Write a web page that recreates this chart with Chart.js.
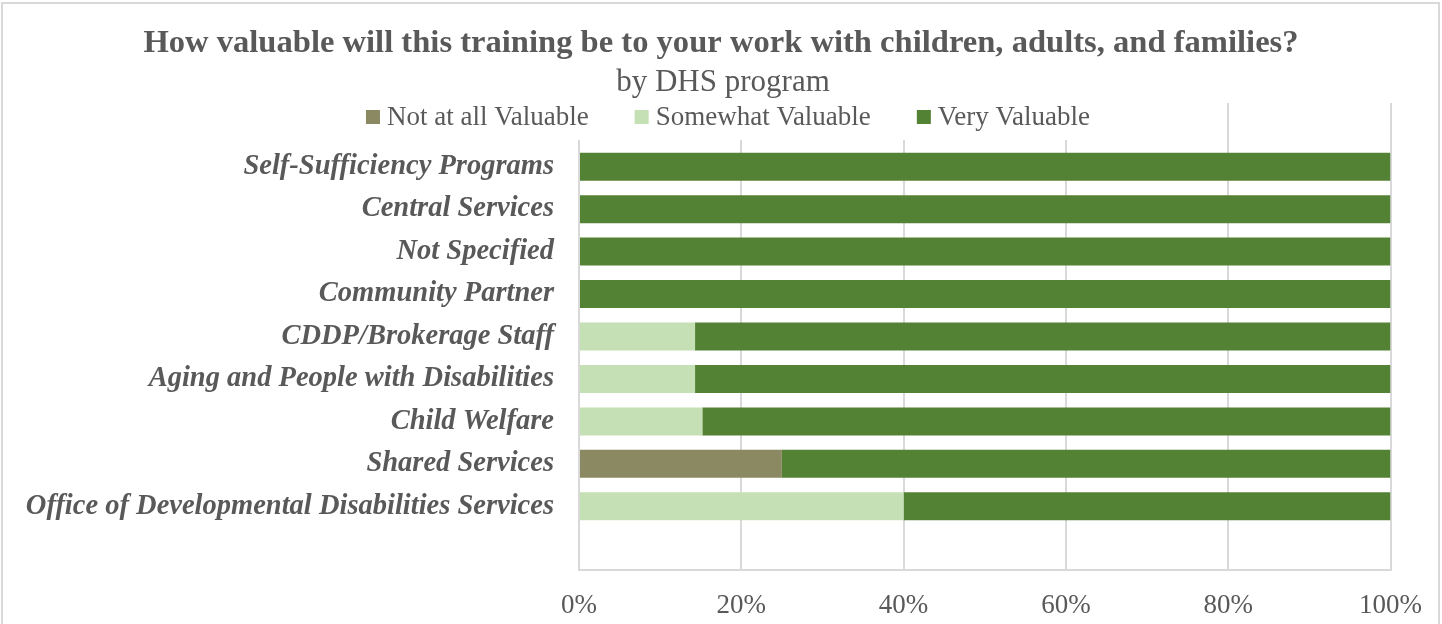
<!DOCTYPE html>
<html>
<head>
<meta charset="utf-8">
<title>How valuable will this training be</title>
<script src="https://cdn.jsdelivr.net/npm/chart.js@4.4.1/dist/chart.umd.min.js"></script>
<style>
  html, body { margin: 0; padding: 0; background: #fff; }
  #wrap { position: relative; width: 1442px; height: 624px; }
</style>
</head>
<body>
<div id="wrap"><canvas id="chart"></canvas></div>
<script>
const titleText = "How valuable will this training be to your work with children, adults, and families?";
const subtitleText = "by DHS program";
const programs = [
  "Self-Sufficiency Programs",
  "Central Services",
  "Not Specified",
  "Community Partner",
  "CDDP/Brokerage Staff",
  "Aging and People with Disabilities",
  "Child Welfare",
  "Shared Services",
  "Office of Developmental Disabilities Services",
];
const notValuable = [0, 0, 0, 0, 0, 0, 0, 25, 0];
const somewhatValuable = [0, 0, 0, 0, 14.3, 14.3, 15.2, 0, 40];
const veryValuable = [100, 100, 100, 100, 85.7, 85.7, 84.8, 75, 60];
const xTicks = [0, 20, 40, 60, 80, 100];

const FONT = "'Liberation Serif', 'Times New Roman', serif";
const GREY = "#595959";

// Excel leaves an empty slot above and below the bars
const pad = (arr) => [null, ...arr, null];

// white page, frame, headings centred on the whole box, and a legend
// that sits on top of the plot area
const frameAndLegend = {
  id: "frameAndLegend",
  beforeDraw(chart) {
    const ctx = chart.ctx;
    const cx = chart.width / 2;
    ctx.save();
    ctx.fillStyle = "#fff";
    ctx.fillRect(0, 0, chart.width, chart.height);
    ctx.strokeStyle = "#d9d9d9";
    ctx.lineWidth = 2;
    ctx.strokeRect(2, 3, chart.width - 5, chart.height + 10);

    ctx.fillStyle = GREY;
    ctx.textAlign = "center";
    ctx.textBaseline = "middle";
    ctx.font = "bold 32.6px " + FONT;
    ctx.fillText(titleText, cx, 44);
    ctx.font = "31px " + FONT;
    ctx.fillText(subtitleText, cx + 2, 83);
    ctx.restore();
  },
  afterDraw(chart) {
    const ctx = chart.ctx;
    const sets = chart.data.datasets;
    const box = 14, textGap = 7, itemGap = 46;
    ctx.save();
    ctx.font = "27px " + FONT;
    const widths = sets.map((ds) => box + textGap + ctx.measureText(ds.label).width);
    const total = widths.reduce((a, b) => a + b, 0) + itemGap * (sets.length - 1);
    let x = chart.width / 2 + 7 - total / 2;
    const y = 117;
    ctx.fillStyle = "#fff";
    ctx.fillRect(x - 10, chart.chartArea.top, total + 20, 37);
    ctx.textBaseline = "middle";
    sets.forEach((ds, i) => {
      ctx.fillStyle = ds.backgroundColor;
      ctx.fillRect(x, y - box / 2, box, box);
      ctx.fillStyle = GREY;
      ctx.fillText(ds.label, x + box + textGap, y + 1);
      x += widths[i] + itemGap;
    });
    ctx.restore();
  },
};

new Chart(document.getElementById("chart"), {
  type: "bar",
  data: {
    labels: ["", ...programs, ""],
    datasets: [
      { label: "Not at all Valuable", data: pad(notValuable), backgroundColor: "#8a8962" },
      { label: "Somewhat Valuable", data: pad(somewhatValuable), backgroundColor: "#c5e0b4" },
      { label: "Very Valuable", data: pad(veryValuable), backgroundColor: "#548235" },
    ],
  },
  options: {
    indexAxis: "y",
    responsive: true,
    maintainAspectRatio: false,
    animation: false,
    datasets: { bar: { barPercentage: 0.66, categoryPercentage: 1 } },
    layout: { padding: { top: 103, right: 46, bottom: 0, left: 0 } },
    plugins: {
      legend: { display: false },
      tooltip: { enabled: false },
    },
    scales: {
      x: {
        stacked: true,
        min: 0,
        max: 100,
        afterBuildTicks: (scale) => {
          scale.ticks = xTicks.map((v) => ({ value: v }));
        },
        afterFit: (scale) => {
          scale.height = 54;
        },
        grid: { color: "#d9d9d9", lineWidth: 2, drawTicks: false },
        border: { display: true, color: "#d9d9d9", width: 2 },
        ticks: {
          color: GREY,
          padding: 20,
          maxRotation: 0,
          font: { family: FONT, size: 27 },
          callback: (v) => v + "%",
        },
      },
      y: {
        stacked: true,
        afterFit: (scale) => {
          scale.width = 579;
        },
        grid: { display: false },
        border: { display: false },
        ticks: {
          color: GREY,
          padding: 17,
          autoSkip: false,
          font: { family: FONT, size: 28.5, weight: "bold", style: "italic" },
        },
      },
    },
  },
  plugins: [frameAndLegend],
});
</script>
</body>
</html>
